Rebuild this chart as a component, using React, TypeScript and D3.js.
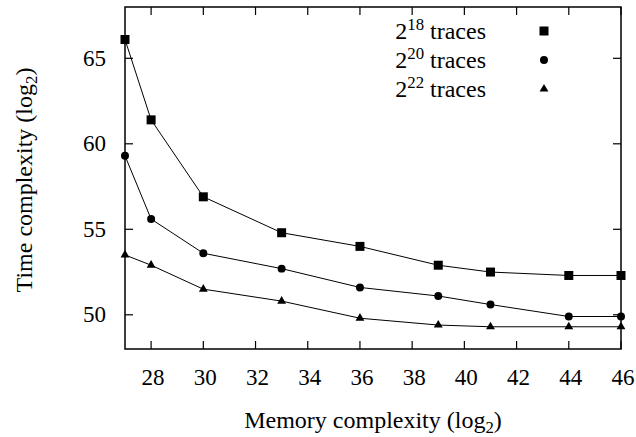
import React, { useRef, useEffect } from "react";
import * as d3 from "d3";

const memory = [27, 28, 30, 33, 36, 39, 41, 44, 46];
const traces18 = [66.1, 61.4, 56.9, 54.8, 54.0, 52.9, 52.5, 52.3, 52.3];
const traces20 = [59.3, 55.6, 53.6, 52.7, 51.6, 51.1, 50.6, 49.9, 49.9];
const traces22 = [53.5, 52.9, 51.5, 50.8, 49.8, 49.4, 49.3, 49.3, 49.3];
const seriesExp = ["18", "20", "22"];
const xTicks = [28, 30, 32, 34, 36, 38, 40, 42, 44, 46];
const yTicks = [50, 55, 60, 65];

function App() {
  const svgRef = useRef<SVGSVGElement>(null);

  useEffect(() => {
    const w = 636;
    const h = 437;
    const m = { top: 7, right: 15, bottom: 88, left: 125 };
    const font = "Liberation Serif";
    const fs = 24;
    const tfs = 23;

    const svg = d3.select(svgRef.current).attr("width", w).attr("height", h);
    svg.selectAll("*").remove();

    const x = d3.scaleLinear().domain([27, 46]).range([m.left, w - m.right]);
    const y = d3.scaleLinear().domain([48, 68]).range([h - m.bottom, m.top]);
    const [x0, x1] = x.range();
    const [y0, y1] = y.range();
    const tick = 8;

    const g = svg.append("g").style("font-family", font).attr("fill", "#000");
    const text = (sel: any) => sel.append("text").style("font-family", font);

    // ticks, mirrored on all sides
    const ax = g.append("g").attr("stroke", "#000").attr("stroke-width", 1.2);
    xTicks.forEach((t) => {
      ax.append("line").attr("x1", x(t)).attr("x2", x(t)).attr("y1", y0).attr("y2", y0 - tick);
      ax.append("line").attr("x1", x(t)).attr("x2", x(t)).attr("y1", y1).attr("y2", y1 + tick);
      text(g).attr("x", x(t) + 2).attr("y", 385).attr("font-size", tfs).attr("text-anchor", "middle").text(t);
    });
    yTicks.forEach((t) => {
      ax.append("line").attr("x1", x0).attr("x2", x0 + tick).attr("y1", y(t)).attr("y2", y(t));
      ax.append("line").attr("x1", x1).attr("x2", x1 - tick).attr("y1", y(t)).attr("y2", y(t));
      text(g).attr("x", x0 - 19).attr("y", y(t)).attr("dy", "0.33em").attr("font-size", tfs)
        .attr("text-anchor", "end").text(t);
    });

    // axis titles
    const xt = text(g).attr("x", (x0 + x1) / 2).attr("y", 428).attr("font-size", fs).attr("text-anchor", "middle");
    xt.append("tspan").text("Memory complexity (log");
    xt.append("tspan").attr("font-size", fs * 0.7).attr("dy", 5).text("2");
    xt.append("tspan").attr("dy", -5).text(")");

    const yt = text(g)
      .attr("transform", `translate(32, ${(y0 + y1) / 2 + 2}) rotate(-90)`)
      .attr("font-size", fs)
      .attr("text-anchor", "middle");
    yt.append("tspan").text("Time complexity (log");
    yt.append("tspan").attr("font-size", fs * 0.7).attr("dy", 5).text("2");
    yt.append("tspan").attr("dy", -5).text(")");

    const all = [traces18, traces20, traces22];
    const line = d3.line<number>().x((_, i) => x(memory[i])).y((d) => y(d));
    all.forEach((s) => {
      g.append("path").attr("d", line(s)).attr("fill", "none").attr("stroke", "#000").attr("stroke-width", 1);
    });

    const symbols = [
      d3.symbol().type(d3.symbolSquare).size(81),
      d3.symbol().type(d3.symbolCircle).size(50),
      d3.symbol().type(d3.symbolTriangle).size(34),
    ];
    all.forEach((s, k) => {
      g.selectAll(null)
        .data(s)
        .enter()
        .append("path")
        .attr("d", symbols[k]())
        .attr("transform", (d, i) => `translate(${x(memory[i])}, ${y(d)})`)
        .attr("fill", "#000");
    });

    // legend
    const legY = [31, 60, 89];
    seriesExp.forEach((e, k) => {
      const t = text(g).attr("x", 486).attr("y", legY[k]).attr("dy", "0.33em").attr("font-size", fs)
        .attr("text-anchor", "end");
      t.append("tspan").text("2");
      t.append("tspan").attr("font-size", fs * 0.7).attr("dy", -9).text(e);
      t.append("tspan").attr("dy", 9).text(" traces");
      g.append("path").attr("d", symbols[k]()).attr("transform", `translate(544, ${legY[k]})`).attr("fill", "#000");
    });

    // frame
    g.append("rect")
      .attr("x", x0).attr("y", y1).attr("width", x1 - x0).attr("height", y0 - y1)
      .attr("fill", "none").attr("stroke", "#000").attr("stroke-width", 1.5);
  }, []);

  return (
    <div>
      <svg ref={svgRef} style={{ position: "absolute", left: 0, top: 0, background: "#fff" }}></svg>
    </div>
  );
}

export default App;
